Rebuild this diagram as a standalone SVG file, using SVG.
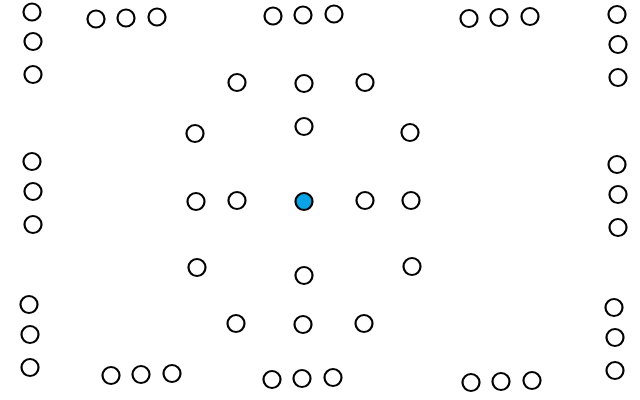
<svg xmlns="http://www.w3.org/2000/svg" width="640" height="400" viewBox="0 0 640 400">
<style>
.n{fill:#fff;stroke:#000;stroke-width:2.2}
.c{fill:#0aa3e6;stroke:#000;stroke-width:2.2}
</style>
<rect width="640" height="400" fill="#fff"/>
<g id="connectors"></g>
<g id="n1"><circle class="n" cx="32" cy="12" r="8.5"/></g>
<g id="n2"><circle class="n" cx="33" cy="41.5" r="8.5"/></g>
<g id="n3"><circle class="n" cx="33" cy="74.5" r="8.5"/></g>
<g id="n4"><circle class="n" cx="96" cy="19" r="8.5"/></g>
<g id="n5"><circle class="n" cx="126" cy="18" r="8.5"/></g>
<g id="n6"><circle class="n" cx="157" cy="17" r="8.5"/></g>
<g id="n7"><circle class="n" cx="273" cy="16" r="8.5"/></g>
<g id="n8"><circle class="n" cx="303" cy="15" r="8.5"/></g>
<g id="n9"><circle class="n" cx="334" cy="14" r="8.5"/></g>
<g id="n10"><circle class="n" cx="469" cy="18.5" r="8.5"/></g>
<g id="n11"><circle class="n" cx="499" cy="17.5" r="8.5"/></g>
<g id="n12"><circle class="n" cx="530" cy="16.5" r="8.5"/></g>
<g id="n13"><circle class="n" cx="617" cy="14.5" r="8.5"/></g>
<g id="n14"><circle class="n" cx="618" cy="44.5" r="8.5"/></g>
<g id="n15"><circle class="n" cx="618" cy="77.5" r="8.5"/></g>
<g id="n16"><circle class="n" cx="237" cy="82.5" r="8.5"/></g>
<g id="n17"><circle class="n" cx="304" cy="83.5" r="8.5"/></g>
<g id="n18"><circle class="n" cx="365" cy="82.5" r="8.5"/></g>
<g id="n19"><circle class="n" cx="195" cy="133.5" r="8.5"/></g>
<g id="n20"><circle class="n" cx="304" cy="126.5" r="8.5"/></g>
<g id="n21"><circle class="n" cx="410" cy="132.5" r="8.5"/></g>
<g id="n22"><circle class="n" cx="196" cy="201.5" r="8.5"/></g>
<g id="n23"><circle class="n" cx="237" cy="200.5" r="8.5"/></g>
<g id="center"><circle class="c" cx="304" cy="201.5" r="8.5"/></g>
<g id="n24"><circle class="n" cx="365" cy="200.5" r="8.5"/></g>
<g id="n25"><circle class="n" cx="411" cy="200.5" r="8.5"/></g>
<g id="n26"><circle class="n" cx="197" cy="267.5" r="8.5"/></g>
<g id="n27"><circle class="n" cx="304" cy="275.5" r="8.5"/></g>
<g id="n28"><circle class="n" cx="412" cy="266.5" r="8.5"/></g>
<g id="n29"><circle class="n" cx="236" cy="323.5" r="8.5"/></g>
<g id="n30"><circle class="n" cx="303" cy="324.5" r="8.5"/></g>
<g id="n31"><circle class="n" cx="364" cy="323.5" r="8.5"/></g>
<g id="n32"><circle class="n" cx="32" cy="161.5" r="8.5"/></g>
<g id="n33"><circle class="n" cx="33" cy="191.5" r="8.5"/></g>
<g id="n34"><circle class="n" cx="33" cy="224.5" r="8.5"/></g>
<g id="n35"><circle class="n" cx="617" cy="164.5" r="8.5"/></g>
<g id="n36"><circle class="n" cx="618" cy="194.5" r="8.5"/></g>
<g id="n37"><circle class="n" cx="618" cy="227.5" r="8.5"/></g>
<g id="n38"><circle class="n" cx="29" cy="304.5" r="8.5"/></g>
<g id="n39"><circle class="n" cx="30" cy="334.5" r="8.5"/></g>
<g id="n40"><circle class="n" cx="30" cy="367.5" r="8.5"/></g>
<g id="n41"><circle class="n" cx="111" cy="375.5" r="8.5"/></g>
<g id="n42"><circle class="n" cx="141" cy="374.5" r="8.5"/></g>
<g id="n43"><circle class="n" cx="172" cy="373.5" r="8.5"/></g>
<g id="n44"><circle class="n" cx="272" cy="379.5" r="8.5"/></g>
<g id="n45"><circle class="n" cx="302" cy="378.5" r="8.5"/></g>
<g id="n46"><circle class="n" cx="333" cy="377.5" r="8.5"/></g>
<g id="n47"><circle class="n" cx="471" cy="382.5" r="8.5"/></g>
<g id="n48"><circle class="n" cx="501" cy="381.5" r="8.5"/></g>
<g id="n49"><circle class="n" cx="532" cy="380.5" r="8.5"/></g>
<g id="n50"><circle class="n" cx="614" cy="307.5" r="8.5"/></g>
<g id="n51"><circle class="n" cx="615" cy="337.5" r="8.5"/></g>
<g id="n52"><circle class="n" cx="615" cy="370.5" r="8.5"/></g>
</svg>
